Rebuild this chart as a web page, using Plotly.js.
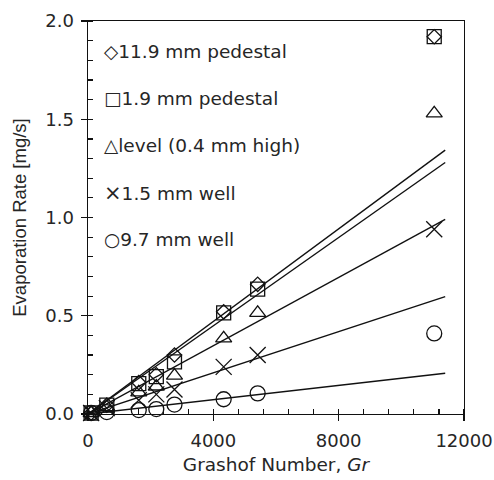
<!DOCTYPE html>
<html><head><meta charset="utf-8">
<script src="https://cdn.plot.ly/plotly-3.0.1.min.js"></script>
<style>html,body{margin:0;padding:0;background:#fff}</style>
</head><body>
<div id="chart" style="width:494px;height:480px"></div>
<script>
// Grashof numbers of the measurement points
const grashof = [100, 600, 1620, 2180, 2760, 4330, 5415, 11050];
// Evaporation rate [mg/s] for each configuration
const pedestal119 = [0.005, 0.045, 0.16, 0.20, 0.30, 0.52, 0.66, 1.92];
const pedestal19 = [0.005, 0.045, 0.155, 0.19, 0.265, 0.515, 0.635, 1.92];
const level04 = [0.005, 0.035, 0.11, 0.14, 0.195, 0.385, 0.515, 1.53];
const well15 = [0.005, 0.03, 0.07, 0.10, 0.125, 0.24, 0.30, 0.94];
const well97 = [0.005, 0.01, 0.02, 0.025, 0.048, 0.075, 0.105, 0.41];
// Linear fit lines (through origin): x range and end values
const fitX = [0, 11400];
const fitEnd119 = [0, 1.343];
const fitEnd19 = [0, 1.28];
const fitEndLevel = [0, 0.99];
const fitEnd15 = [0, 0.597];
const fitEnd97 = [0, 0.207];
const seriesNames = ["11.9 mm pedestal", "1.9 mm pedestal", "level (0.4 mm high)", "1.5 mm well", "9.7 mm well"];
const legendGlyphs = ["\u25C7", "\u25A1", "\u25B3", "\u00D7", "\u25CB"];
const xTicks = [0, 4000, 8000, 12000];
const yTicks = [0, 0.5, 1.0, 1.5, 2.0];

const series = [pedestal119, pedestal19, level04, well15, well97];
const fits = [fitEnd119, fitEnd19, fitEndLevel, fitEnd15, fitEnd97];
const symbols = ["diamond-open", "square-open", "triangle-up-open", "x-thin-open", "circle-open"];
const sizes = [11, 14, 14, 16, 15];
const glyphSizes = [18.5, 18.5, 18.5, 21, 18.5];

const traces = [];
fits.forEach(f => traces.push({
  x: fitX, y: f, mode: "lines", showlegend: false, hoverinfo: "skip",
  line: {color: "#111", width: 1.4}, cliponaxis: false
}));
series.forEach((s, i) => traces.push({
  x: grashof, y: s, mode: "markers", name: seriesNames[i], showlegend: false,
  marker: {symbol: symbols[i], size: sizes[i], color: "#111", line: {color: "#111", width: 1.3}},
  cliponaxis: false
}));

const txt = "#262626";
const hFont = {family: "DejaVu Sans, sans-serif", size: 18, color: txt};
const legendFont = {family: "DejaVu Sans, sans-serif", size: 18.5, color: txt};
const xTitleFont = {family: "DejaVu Sans, sans-serif", size: 18.5, color: txt};
const yTitleFont = {family: "Liberation Sans, Arial, sans-serif", size: 18.5, color: txt};

// legend rows (paper coordinates)
const legendTop = 0.922, legendStep = 0.1195;
const annotations = seriesNames.map((n, i) => ({
  xref: "paper", yref: "paper", x: 0.036, y: legendTop - i * legendStep,
  xanchor: "left", yanchor: "middle", showarrow: false,
  text: '<span style="font-size:' + glyphSizes[i] + 'px">' + legendGlyphs[i] + '</span>' + n,
  font: legendFont
}));

const layout = {
  width: 494, height: 480,
  margin: {l: 88, r: 30, t: 21, b: 66},
  paper_bgcolor: "#fff", plot_bgcolor: "#fff",
  font: hFont,
  showlegend: false,
  annotations: annotations,
  xaxis: {
    range: [0, 12000], tickvals: xTicks, ticktext: xTicks.map(String),
    ticks: "outside", ticklen: 6, tickcolor: "#111", tickwidth: 1.2,
    ticklabelstandoff: 4, tickfont: hFont,
    showline: true, linecolor: "#111", linewidth: 1.4, mirror: true,
    showgrid: false, zeroline: false,
    minor: {dtick: 800, ticks: "inside", ticklen: 5, tickcolor: "#111", tickwidth: 1.2, showgrid: false},
    title: {text: "Grashof Number, <i>Gr</i>", font: xTitleFont, standoff: 8}
  },
  yaxis: {
    range: [0, 2], tickvals: yTicks, ticktext: yTicks.map(v => v.toFixed(1)),
    ticks: "outside", ticklen: 6, tickcolor: "#111", tickwidth: 1.2,
    ticklabelstandoff: 3, tickfont: hFont,
    showline: true, linecolor: "#111", linewidth: 1.4, mirror: true,
    showgrid: false, zeroline: false,
    minor: {dtick: 0.1, ticks: "inside", ticklen: 5, tickcolor: "#111", tickwidth: 1.2, showgrid: false},
    title: {text: "Evaporation Rate [mg/s]", font: yTitleFont, standoff: 14}
  }
};
Plotly.newPlot("chart", traces, layout, {displayModeBar: false, staticPlot: true});
</script>
</body></html>
